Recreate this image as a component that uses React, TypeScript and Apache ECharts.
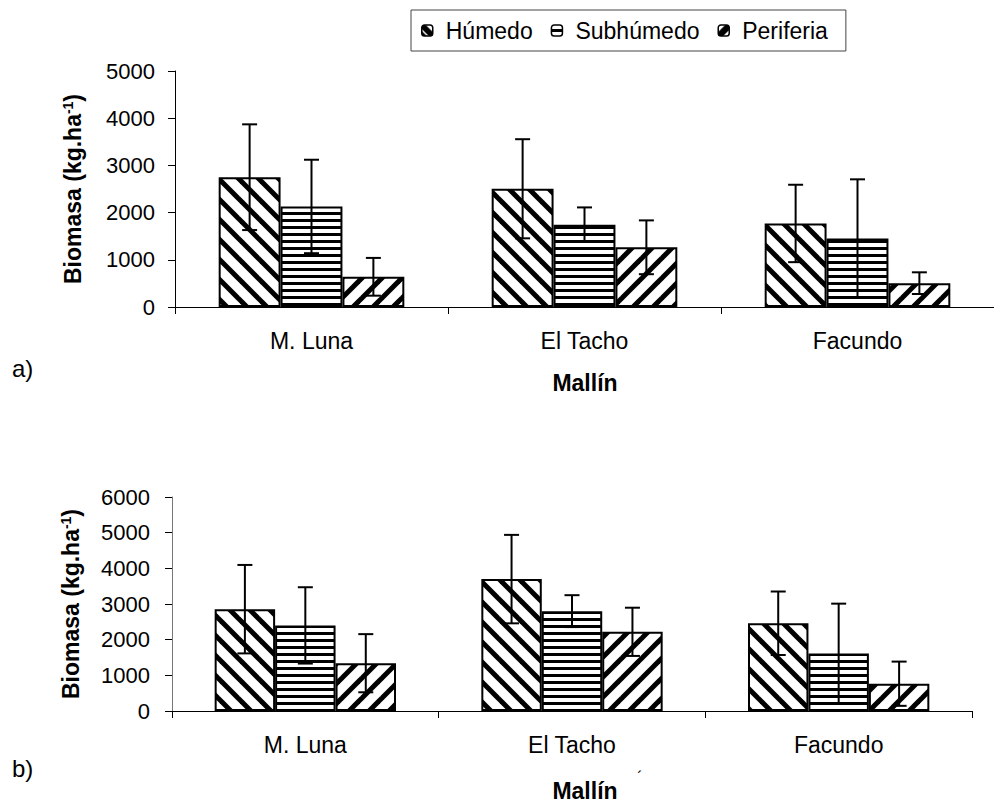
import React, { useEffect, useRef } from "react";
import * as echarts from "echarts";

const categories = ["M. Luna", "El Tacho", "Facundo"];
const seriesNames = ["Húmedo", "Subhúmedo", "Periferia"];

// Panel a)
const aHumedo = [2750, 2505, 1770];
const aSubhumedo = [2130, 1745, 1450];
const aPeriferia = [640, 1265, 505];
const aHumedoSD = [1120, 1050, 820];
const aSubhumedoSD = [990, 365, 1255];
const aPeriferiaSD = [400, 570, 230];

// Panel b)
const bHumedo = [2855, 3698, 2460];
const bSubhumedo = [2400, 2800, 1615];
const bPeriferia = [1340, 2220, 765];
const bHumedoSD = [1240, 1240, 890];
const bSubhumedoSD = [1070, 447, 1395];
const bPeriferiaSD = [815, 676, 620];

const aTicks = { min: 0, max: 5000, interval: 1000 };
const bTicks = { min: 0, max: 6000, interval: 1000 };

const FONT = "'Liberation Sans', Arial, sans-serif";
const GAP = 0.32;

function makeTile(kind: string, size: number, lw: number) {
  const c = document.createElement("canvas");
  c.width = size;
  c.height = size;
  const ctx = c.getContext("2d")!;
  ctx.fillStyle = "#fff";
  ctx.fillRect(0, 0, size, size);
  ctx.strokeStyle = "#000";
  ctx.fillStyle = "#000";
  ctx.lineWidth = lw;
  if (kind === "back") {
    for (let k = -1; k <= 1; k++) {
      ctx.beginPath();
      ctx.moveTo(k * size - 3, -3);
      ctx.lineTo(k * size + size + 3, size + 3);
      ctx.stroke();
    }
  } else if (kind === "fwd") {
    for (let k = -1; k <= 1; k++) {
      ctx.beginPath();
      ctx.moveTo(k * size - 3, size + 3);
      ctx.lineTo(k * size + size + 3, -3);
      ctx.stroke();
    }
  }
  return c;
}

function makeHorizontal(period: number, black: number) {
  const c = document.createElement("canvas");
  c.width = period;
  c.height = period;
  const ctx = c.getContext("2d")!;
  ctx.fillStyle = "#fff";
  ctx.fillRect(0, 0, period, period);
  ctx.fillStyle = "#000";
  ctx.fillRect(0, 2, period, black);
  return c;
}

function pattern(canvas: HTMLCanvasElement) {
  return {
    image: canvas,
    repeat: "repeat",
    imageWidth: canvas.width,
    imageHeight: canvas.height,
  } as any;
}

export default function App() {
  const ref = useRef<HTMLDivElement>(null);

  useEffect(() => {
    if (!ref.current) return;
    const chart = echarts.init(ref.current, null, { renderer: "svg" });

    const pHum = pattern(makeTile("back", 20, 5));
    const pSub = pattern(makeHorizontal(7, 3));
    const pPer = pattern(makeTile("fwd", 20, 5));
    const patterns = [pHum, pSub, pPer];

    // legend icons
    const iHum = (() => {
      const c = document.createElement("canvas");
      c.width = 11; c.height = 11;
      const ctx = c.getContext("2d")!;
      ctx.fillStyle = "#fff"; ctx.fillRect(0, 0, 11, 11);
      ctx.fillStyle = "#000";
      ctx.beginPath(); ctx.moveTo(0, 0); ctx.lineTo(4, 0); ctx.lineTo(11, 7); ctx.lineTo(11, 11); ctx.lineTo(7, 11); ctx.lineTo(0, 4); ctx.closePath(); ctx.fill();
      ctx.beginPath(); ctx.moveTo(0, 6); ctx.lineTo(5, 11); ctx.lineTo(0, 11); ctx.closePath(); ctx.fill();
      return pattern(c);
    })();
    const iSub = (() => {
      const c = document.createElement("canvas");
      c.width = 11; c.height = 11;
      const ctx = c.getContext("2d")!;
      ctx.fillStyle = "#fff"; ctx.fillRect(0, 0, 11, 11);
      ctx.fillStyle = "#000"; ctx.fillRect(0, 4, 11, 3);
      return pattern(c);
    })();
    const iPer = (() => {
      const c = document.createElement("canvas");
      c.width = 11; c.height = 11;
      const ctx = c.getContext("2d")!;
      ctx.fillStyle = "#fff"; ctx.fillRect(0, 0, 11, 11);
      ctx.fillStyle = "#000";
      ctx.beginPath(); ctx.moveTo(0, 11); ctx.lineTo(0, 7); ctx.lineTo(7, 0); ctx.lineTo(11, 0); ctx.lineTo(11, 11); ctx.closePath(); ctx.fill();
      ctx.fillStyle = "#fff";
      ctx.beginPath(); ctx.moveTo(5, 11); ctx.lineTo(11, 5); ctx.lineTo(11, 11); ctx.closePath(); ctx.fill();
      return pattern(c);
    })();
    const icons = [iHum, iSub, iPer];

    const panels = [
      { means: [aHumedo, aSubhumedo, aPeriferia], sds: [aHumedoSD, aSubhumedoSD, aPeriferiaSD] },
      { means: [bHumedo, bSubhumedo, bPeriferia], sds: [bHumedoSD, bSubhumedoSD, bPeriferiaSD] },
    ];

    const series: any[] = [];
    panels.forEach((p, g) => {
      p.means.forEach((vals, k) => {
        series.push({
          type: "bar",
          name: seriesNames[k],
          xAxisIndex: g,
          yAxisIndex: g,
          data: vals,
          barGap: "0%",
          barCategoryGap: GAP * 100 + "%",
          itemStyle: { color: patterns[k], borderColor: "#000", borderWidth: 2 },
          emphasis: { disabled: true },
          z: 2,
        });
      });
    });
    panels.forEach((p, g) => {
      p.means.forEach((vals, k) => {
        series.push({
          type: "custom",
          name: "err" + g + k,
          xAxisIndex: g,
          yAxisIndex: g,
          z: 5,
          silent: true,
          data: vals.map((v, i) => [i, v, p.sds[k][i]]),
          encode: { x: 0, y: 1 },
          renderItem: (params: any, api: any) => {
            const cat = api.value(0);
            const mean = api.value(1);
            const sd = api.value(2);
            const c = api.coord([cat, mean]);
            const band = api.size([1, 0])[0];
            const bw = (band * (1 - GAP)) / 3;
            const x = c[0] + (k - 1) * bw;
            const top = api.coord([cat, mean + sd])[1];
            const bot = api.coord([cat, mean - sd])[1];
            const h = 7.5;
            const st = { stroke: "#000", lineWidth: 2 };
            return {
              type: "group",
              children: [
                { type: "line", shape: { x1: x, y1: top, x2: x, y2: bot }, style: st },
                { type: "line", shape: { x1: x - h, y1: top, x2: x + h, y2: top }, style: st },
                { type: "line", shape: { x1: x - h, y1: bot, x2: x + h, y2: bot }, style: st },
              ],
            };
          },
        });
      });
    });

    const yName = "Biomasa (kg.ha{s|-1})";
    const yNameStyle = {
      fontFamily: FONT,
      fontWeight: "bold",
      fontSize: 23,
      color: "#000",
      rich: { s: { fontFamily: FONT, fontWeight: "bold", fontSize: 14, verticalAlign: "top", color: "#000" } },
    };
    const xAxisCommon = {
      type: "category",
      data: categories,
      axisLine: { lineStyle: { color: "#000", width: 1 } },
      axisTick: { show: true, length: 7, alignWithLabel: false, lineStyle: { color: "#000" } },
      axisLabel: { fontFamily: FONT, fontSize: 23, color: "#000", margin: 22 },
      splitLine: { show: false },
    };
    const plain = (v: number) => String(v);

    chart.setOption({
      animation: false,
      backgroundColor: "#fff",
      legend: {
        left: 411,
        top: 10,
        itemWidth: 11,
        itemHeight: 11,
        itemGap: 18,
        padding: [9, 18, 9, 10],
        borderColor: "#444",
        borderWidth: 1,
        selectedMode: false,
        textStyle: { fontFamily: FONT, fontSize: 23, color: "#000", padding: [0, 0, 0, 8] },
        data: seriesNames.map((n, k) => ({
          name: n,
          itemStyle: { color: icons[k], borderColor: "#000", borderWidth: 1.5 },
        })),
      },
      grid: [
        { left: 175, right: 0, top: 71, height: 236 },
        { left: 172, right: 22, top: 497, height: 214 },
      ],
      xAxis: [
        { ...xAxisCommon, gridIndex: 0 },
        { ...xAxisCommon, gridIndex: 1 },
      ],
      yAxis: [
        {
          type: "value",
          gridIndex: 0,
          ...aTicks,
          name: yName,
          nameLocation: "middle",
          nameGap: 91,
          nameTextStyle: yNameStyle,
          axisLine: { show: true, lineStyle: { color: "#000" } },
          axisTick: { show: true, length: 7, lineStyle: { color: "#000" } },
          axisLabel: { fontFamily: FONT, fontSize: 22, color: "#000", margin: 20, formatter: plain },
          splitLine: { show: false },
        },
        {
          type: "value",
          gridIndex: 1,
          ...bTicks,
          name: yName,
          nameLocation: "middle",
          nameGap: 90,
          nameTextStyle: yNameStyle,
          axisLine: { show: true, lineStyle: { color: "#777" } },
          axisTick: { show: true, length: 7, lineStyle: { color: "#000" } },
          axisLabel: { fontFamily: FONT, fontSize: 22, color: "#000", margin: 22, formatter: plain },
          splitLine: { show: false },
        },
      ],
      graphic: [
        { type: "text", left: 12, top: 356, style: { text: "a)", font: `24px ${FONT}`, fill: "#000" } },
        { type: "text", left: 12, top: 756, style: { text: "b)", font: `24px ${FONT}`, fill: "#000" } },
        { type: "text", x: 585, y: 383, style: { text: "Mallín", font: `bold 23px ${FONT}`, fill: "#000", align: "center", verticalAlign: "middle" } },
        { type: "text", x: 585, y: 791, style: { text: "Mallín", font: `bold 23px ${FONT}`, fill: "#000", align: "center", verticalAlign: "middle" } },
        { type: "text", x: 640, y: 777, style: { text: "´", font: `16px ${FONT}`, fill: "#000", align: "center", verticalAlign: "middle" } },
      ],
      series,
    });

    return () => chart.dispose();
  }, []);

  return (
    <div
      ref={ref}
      style={{ position: "absolute", left: 0, top: 0, width: 994, height: 805, background: "#fff" }}
    />
  );
}
